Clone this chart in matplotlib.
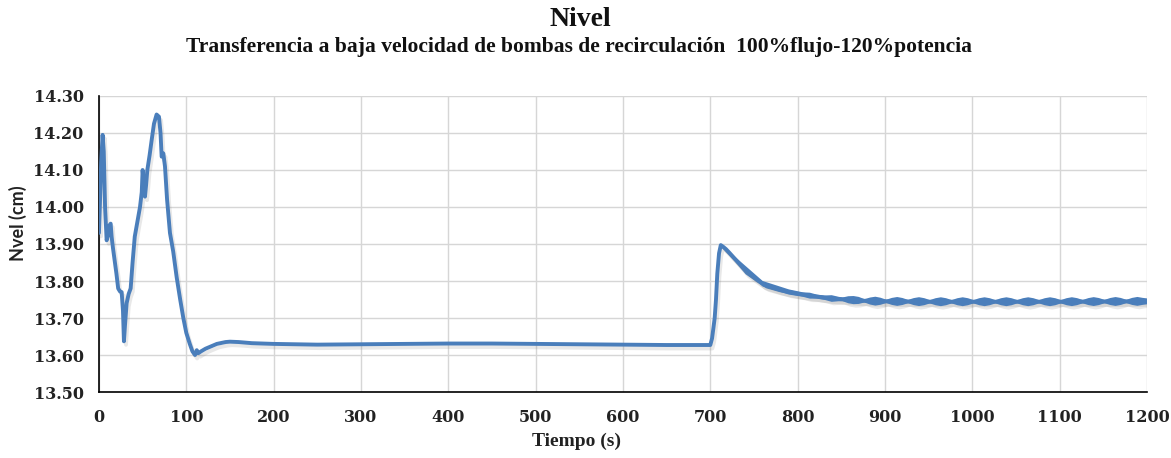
import numpy as np
import matplotlib
matplotlib.use("Agg")
import matplotlib.pyplot as plt
import matplotlib.patheffects as pe

# curve: time (s), level (cm)
tiempo = [0, 1, 2.5, 4.2, 5.5, 7, 8.8, 10.5, 12, 13.4, 14.5, 16, 18, 20, 22, 24, 26,
          27.5, 28.6, 29.8, 31.7, 34, 36.3, 38.5, 41, 44, 47, 49, 50, 51.5, 52.7, 54,
          55.4, 58, 60.3, 63, 66, 68.7, 70.5, 71.8, 73, 73.7, 74.5, 75.6, 78, 81.3, 85,
          89, 93, 96.6, 100, 104, 107, 110, 112, 113.8, 117, 122, 127, 135, 145, 150,
          160, 175, 200, 250, 300, 350, 400, 450, 500, 550, 600, 650, 700, 702, 703.5,
          705, 706.5, 708, 710, 712, 715, 718, 722, 730, 742, 755, 765, 780, 799, 815,
          837, 860, 880, 900, 950, 1000, 1100, 1200]
nivel = [13.93, 14.00, 14.12, 14.195, 14.15, 14.00, 13.91, 13.925, 13.95, 13.955, 13.92,
         13.89, 13.855, 13.82, 13.78, 13.772, 13.77, 13.72, 13.637, 13.68, 13.74, 13.765,
         13.78, 13.85, 13.92, 13.96, 14.00, 14.04, 14.10, 14.06, 14.028, 14.06, 14.10,
         14.14, 14.18, 14.225, 14.25, 14.244, 14.20, 14.136, 14.14, 14.145, 14.13, 14.11,
         14.02, 13.93, 13.88, 13.81, 13.75, 13.70, 13.66, 13.63, 13.61, 13.60, 13.613,
         13.605, 13.61, 13.617, 13.622, 13.63, 13.635, 13.636, 13.635, 13.632, 13.630,
         13.628, 13.629, 13.630, 13.631, 13.631, 13.630, 13.629, 13.628, 13.627, 13.627,
         13.645, 13.672, 13.70, 13.75, 13.82, 13.875, 13.897, 13.892, 13.886, 13.876,
         13.855, 13.822, 13.80, 13.785, 13.775, 13.766, 13.76, 13.753, 13.749, 13.746,
         13.745, 13.744, 13.744, 13.744, 13.745]

# half-width of the oscillation band around the curve (cm)
t_banda = [712, 730, 760, 790, 806, 814, 822, 831, 839, 847, 851.5, 858, 864, 870, 876.5,
           883, 889, 895, 901.5, 908, 914, 920, 926.5, 933, 939, 945, 951.5,
           958, 964, 970, 976.5, 983, 989, 995, 1001.5, 1008, 1014, 1020, 1026.5,
           1033, 1039, 1045, 1051.5, 1058, 1064, 1070, 1076.5, 1083, 1089, 1095, 1101.5,
           1108, 1114, 1120, 1126.5, 1133, 1139, 1145, 1151.5, 1158, 1164, 1170, 1176.5,
           1183, 1189, 1195, 1200]
ancho_banda = [0.004, 0.007, 0.0075, 0.007, 0.006, 0.008, 0.0055, 0.006, 0.009, 0.006,
               0.005, 0.0095, 0.011, 0.0095, 0.0045,
               0.0095, 0.012, 0.0095, 0.0045, 0.0095, 0.012, 0.0095, 0.0045,
               0.0095, 0.012, 0.0095, 0.0045, 0.0095, 0.012, 0.0095, 0.0045,
               0.0095, 0.012, 0.0095, 0.0045, 0.0095, 0.012, 0.0095, 0.0045,
               0.0095, 0.012, 0.0095, 0.0045, 0.0095, 0.012, 0.0095, 0.0045,
               0.0095, 0.012, 0.0095, 0.0045, 0.0095, 0.012, 0.0095, 0.0045,
               0.0095, 0.012, 0.0095, 0.0045, 0.0095, 0.012, 0.0095, 0.0045,
               0.0095, 0.012, 0.0095, 0.008]

xticks = list(range(0, 1201, 100))
yticks = [13.50, 13.60, 13.70, 13.80, 13.90, 14.00, 14.10, 14.20, 14.30]

color = '#4a7ebb'

fig = plt.figure(figsize=(11.71, 4.58), dpi=100)
ax = fig.add_axes([0.0845, 0.1441, 0.895, 0.6463])

sombra = [pe.SimpleLineShadow(offset=(1.5, -2.5), shadow_color='#808080', alpha=0.18),
          pe.Normal()]
ax.plot(tiempo, nivel, color=color, lw=2.8, solid_capstyle='round',
        path_effects=sombra, zorder=3)

centro = np.interp(t_banda, tiempo, nivel)
ancho = np.array(ancho_banda)
ax.fill_between(t_banda, centro - ancho, centro + ancho, color=color, lw=0, zorder=3,
                path_effects=[pe.SimplePatchShadow(offset=(1.5, -2.5), shadow_rgbFace='#808080',
                                                   alpha=0.18), pe.Normal()])

ax.set_xlim(0, 1200)
ax.set_ylim(13.50, 14.30)
ax.set_xticks(xticks)
ax.set_yticks(yticks)
ax.set_yticklabels(["%.2f" % v for v in yticks])
ax.grid(True, color='#d6d6d6', lw=1)
ax.set_axisbelow(True)
for s in ['top', 'right']:
    ax.spines[s].set_visible(False)
for s in ['left', 'bottom']:
    ax.spines[s].set_color('black')
    ax.spines[s].set_linewidth(1.2)
ax.tick_params(length=0, labelsize=11.5, colors='#222222')
ax.tick_params(axis='x', pad=12)
ax.tick_params(axis='y', pad=11)
for lab in ax.get_xticklabels() + ax.get_yticklabels():
    lab.set_fontfamily('DejaVu Serif')
    lab.set_fontweight('bold')

fig.text(0.4955, 0.958, "Nivel", ha='center', va='center', fontsize=20,
         fontweight='bold', family='Liberation Serif', color='#111111')
fig.text(0.4945, 0.898, "Transferencia a baja velocidad de bombas de recirculación  100%flujo-120%potencia",
         ha='center', va='center', fontsize=15.5, fontweight='bold',
         family='Liberation Serif', color='#111111')
fig.text(0.4925, 0.037, "Tiempo (s)", ha='center', va='center', fontsize=14,
         fontweight='bold', family='Liberation Serif', color='#222222')
fig.text(0.0154, 0.513, "Nvel (cm)", ha='center', va='center', rotation=90,
         fontsize=13, fontweight='bold', family='Lato', color='#222222')

fig.savefig("out.png", dpi=100)
